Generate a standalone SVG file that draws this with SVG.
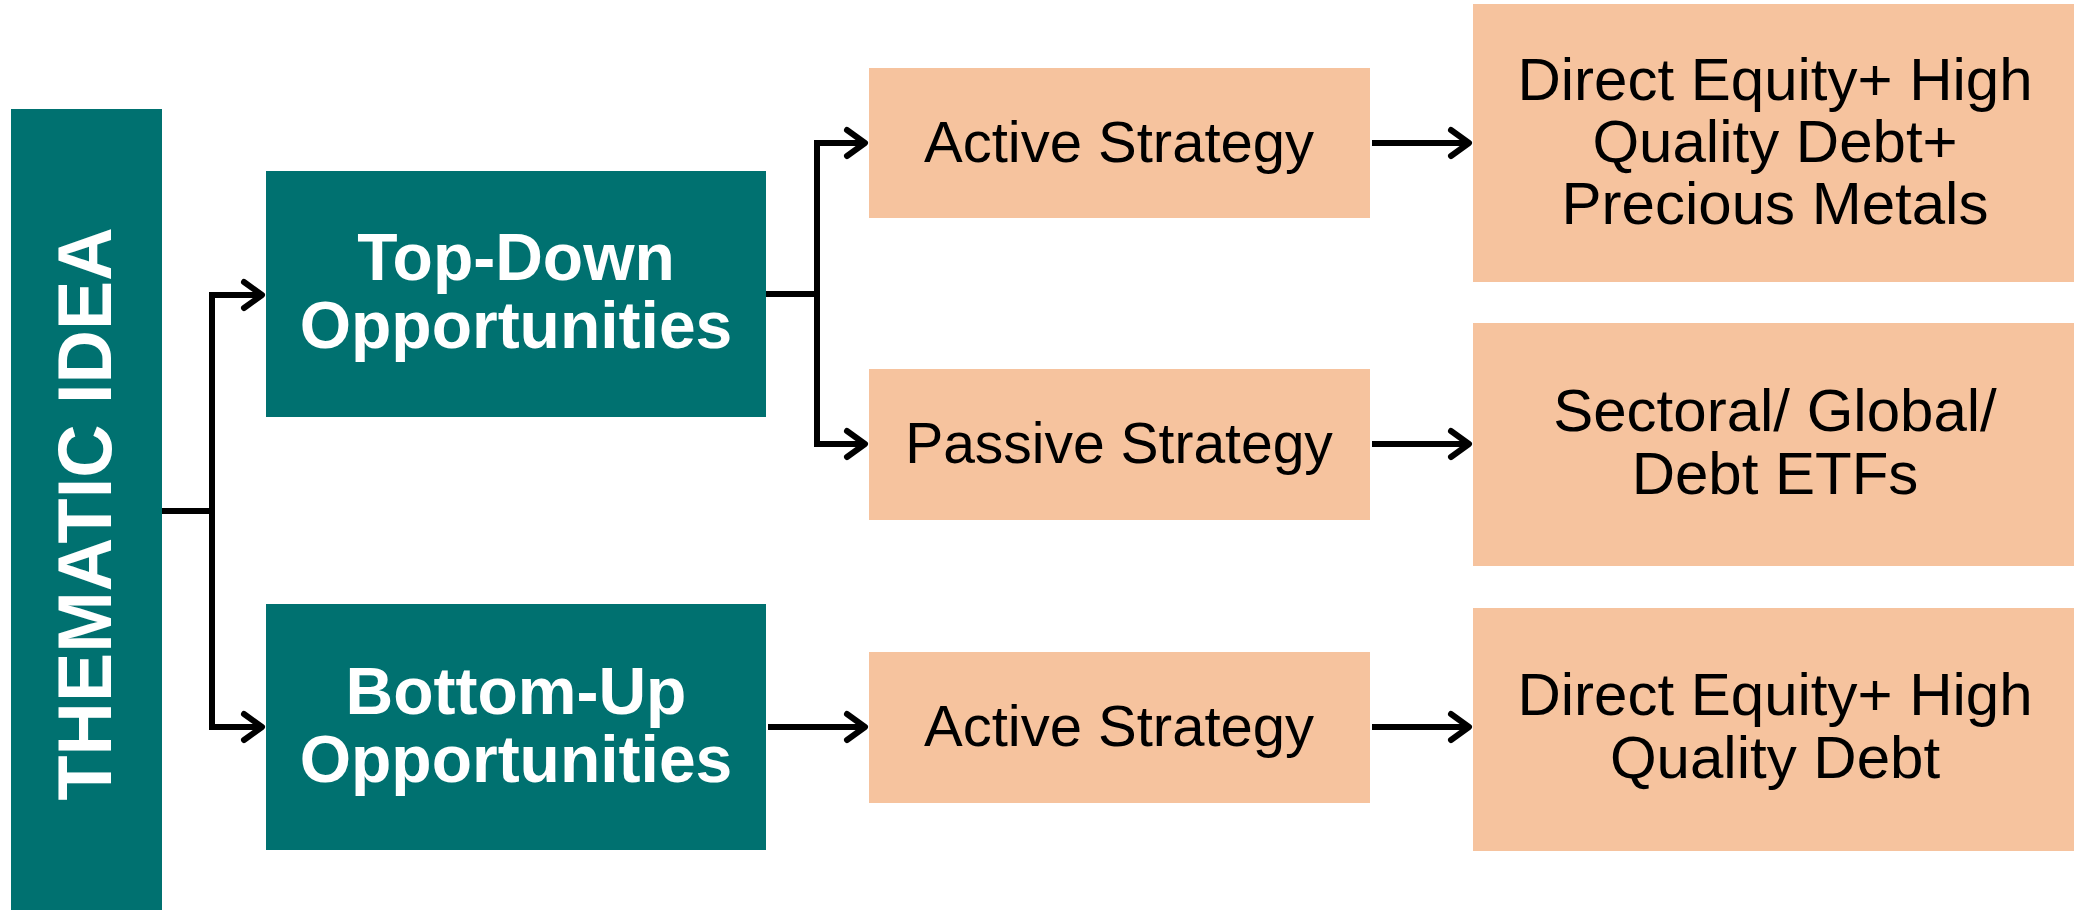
<svg xmlns="http://www.w3.org/2000/svg" width="2074" height="910" viewBox="0 0 2074 910">
<style>
.teal{fill:#007170}
.peach{fill:#F6C39E}
.wt{fill:#fff;font-family:"Liberation Sans",Arial,sans-serif;font-weight:bold;text-anchor:middle}
.bt{fill:#000;font-family:"Liberation Sans",Arial,sans-serif;text-anchor:middle}
.conn{fill:none;stroke:#000;stroke-width:6;stroke-linejoin:miter}
</style>
<defs>
<marker id="arr" viewBox="0 0 26 34" refX="22" refY="17" markerWidth="26" markerHeight="34" markerUnits="userSpaceOnUse" orient="auto">
<path d="M4,4 L22,17 L4,30" fill="none" stroke="#000" stroke-width="6" stroke-linecap="round" stroke-linejoin="round"/>
</marker>
</defs>
<rect width="2074" height="910" fill="#fff"/>
<g id="connectors">
<path class="conn" d="M161,511 H212 V295 H262" marker-end="url(#arr)"/>
<path class="conn" d="M212,511 V727 H262" marker-end="url(#arr)"/>
<path class="conn" d="M766,294 H817 V143 H865" marker-end="url(#arr)"/>
<path class="conn" d="M817,294 V444 H865" marker-end="url(#arr)"/>
<path class="conn" d="M768,727 H865" marker-end="url(#arr)"/>
<path class="conn" d="M1372,143 H1469" marker-end="url(#arr)"/>
<path class="conn" d="M1372,444 H1469" marker-end="url(#arr)"/>
<path class="conn" d="M1372,727 H1469" marker-end="url(#arr)"/>
</g>
<g id="thematic">
<rect class="teal" x="11" y="109" width="151" height="801"/>
<text class="wt" transform="translate(111,514) rotate(-90)" font-size="76" textLength="573" lengthAdjust="spacingAndGlyphs">THEMATIC IDEA</text>
</g>
<g id="topdown">
<rect class="teal" x="266" y="171" width="500" height="246"/>
<text class="wt" x="516" y="280" font-size="66">Top-Down</text>
<text class="wt" x="516" y="348" font-size="66">Opportunities</text>
</g>
<g id="bottomup">
<rect class="teal" x="266" y="604" width="500" height="246"/>
<text class="wt" x="516" y="714" font-size="66">Bottom-Up</text>
<text class="wt" x="516" y="782" font-size="66">Opportunities</text>
</g>
<g id="active1">
<rect class="peach" x="869" y="68" width="501" height="150"/>
<text class="bt" x="1119" y="162" font-size="58">Active Strategy</text>
</g>
<g id="passive">
<rect class="peach" x="869" y="369" width="501" height="151"/>
<text class="bt" x="1119" y="463" font-size="57">Passive Strategy</text>
</g>
<g id="active2">
<rect class="peach" x="869" y="652" width="501" height="151"/>
<text class="bt" x="1119" y="746" font-size="58">Active Strategy</text>
</g>
<g id="out1">
<rect class="peach" x="1473" y="4" width="601" height="278"/>
<text class="bt" x="1775" y="100" font-size="60">Direct Equity+ High</text>
<text class="bt" x="1775" y="162" font-size="60">Quality Debt+</text>
<text class="bt" x="1775" y="224" font-size="60">Precious Metals</text>
</g>
<g id="out2">
<rect class="peach" x="1473" y="323" width="601" height="243"/>
<text class="bt" x="1775" y="431" font-size="60">Sectoral/ Global/</text>
<text class="bt" x="1775" y="494" font-size="60">Debt ETFs</text>
</g>
<g id="out3">
<rect class="peach" x="1473" y="608" width="601" height="243"/>
<text class="bt" x="1775" y="715" font-size="60">Direct Equity+ High</text>
<text class="bt" x="1775" y="778" font-size="60">Quality Debt</text>
</g>
</svg>
